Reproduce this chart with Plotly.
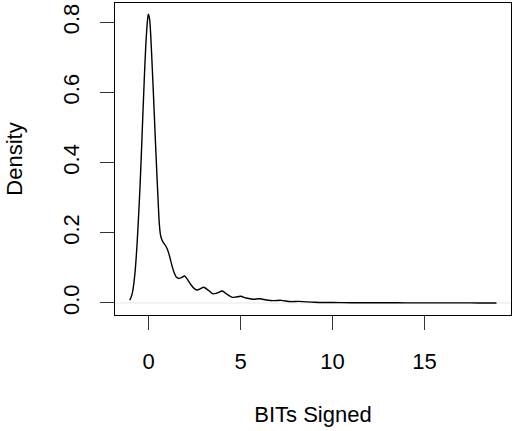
import plotly.graph_objects as go

# Density curve of "BITs Signed"
x_vals = [-1.03, -0.95, -0.88, -0.80, -0.72, -0.64, -0.56, -0.48, -0.40, -0.32,
          -0.24, -0.16, -0.08, -0.02, 0.05, 0.12, 0.20, 0.28, 0.36, 0.44,
          0.52, 0.58, 0.64, 0.72, 0.80, 0.90, 1.00, 1.10, 1.20, 1.30,
          1.40, 1.50, 1.62, 1.78, 1.95, 2.10, 2.30, 2.50, 2.65, 2.82,
          3.00, 3.20, 3.50, 3.75, 4.00, 4.25, 4.55, 4.75, 5.00, 5.30,
          5.65, 6.05, 6.40, 6.80, 7.20, 7.70, 8.20, 9.0, 10.0, 11.0,
          12.0, 13.0, 14.0, 15.0, 16.0, 17.0, 18.0, 18.91]
density = [0.008, 0.017, 0.030, 0.058, 0.100, 0.160, 0.235, 0.320, 0.420, 0.530,
           0.635, 0.730, 0.795, 0.823, 0.810, 0.755, 0.665, 0.570, 0.470, 0.375,
           0.285, 0.225, 0.195, 0.180, 0.172, 0.165, 0.155, 0.140, 0.120, 0.100,
           0.085, 0.074, 0.070, 0.072, 0.077, 0.068, 0.052, 0.040, 0.037, 0.041,
           0.045, 0.038, 0.026, 0.029, 0.034, 0.025, 0.016, 0.017, 0.019, 0.014,
           0.0105, 0.012, 0.0085, 0.0066, 0.0075, 0.004, 0.0045, 0.002, 0.0012, 0.0008,
           0.0006, 0.0005, 0.0004, 0.0003, 0.0002, 0.0002, 0.0001, 0.0]

x_ticks = [0, 5, 10, 15]
y_ticks = [0.0, 0.2, 0.4, 0.6, 0.8]
y_tick_labels = ["0.0", "0.2", "0.4", "0.6", "0.8"]

FONT = "Liberation Sans, Arial, Helvetica, sans-serif"

fig = go.Figure()
fig.add_trace(go.Scatter(
    x=x_vals, y=density, mode="lines",
    line=dict(color="black", width=1.4, shape="spline", smoothing=0.8),
    hoverinfo="skip", showlegend=False,
))

# zero line (light grey, as in R's plot.density)
fig.add_shape(type="line", xref="x domain", yref="y", x0=0, x1=1, y0=0, y1=0,
              line=dict(color="#d9d9d9", width=0.6), layer="below")

fig.update_layout(
    width=513, height=431,
    margin=dict(l=115, r=2, t=3, b=116),
    paper_bgcolor="white", plot_bgcolor="white",
    font=dict(family=FONT, size=22, color="black"),
)
fig.update_xaxes(
    range=[-1.83, 19.70], tickvals=x_ticks, ticktext=[str(v) for v in x_ticks],
    ticks="outside", ticklen=14, tickwidth=1, tickcolor="#333333",
    showline=True, linecolor="black", linewidth=1, mirror=True,
    showgrid=False, zeroline=False, ticklabelstandoff=13,
    title=dict(text="BITs Signed", standoff=33, font=dict(size=22)),
)
fig.update_yaxes(
    range=[-0.0343, 0.855], tickvals=y_ticks, ticktext=y_tick_labels,
    ticks="outside", ticklen=14, tickwidth=1, tickcolor="#333333",
    showline=True, linecolor="black", linewidth=1, mirror=True,
    showgrid=False, zeroline=False, tickangle=-90, ticklabelstandoff=12,
    title=dict(text="Density", standoff=30, font=dict(size=22)),
)

fig.write_html(
    "out.html",
    config={"displayModeBar": False},
    post_script="document.body.style.margin='0';document.body.style.overflow='hidden';",
)
